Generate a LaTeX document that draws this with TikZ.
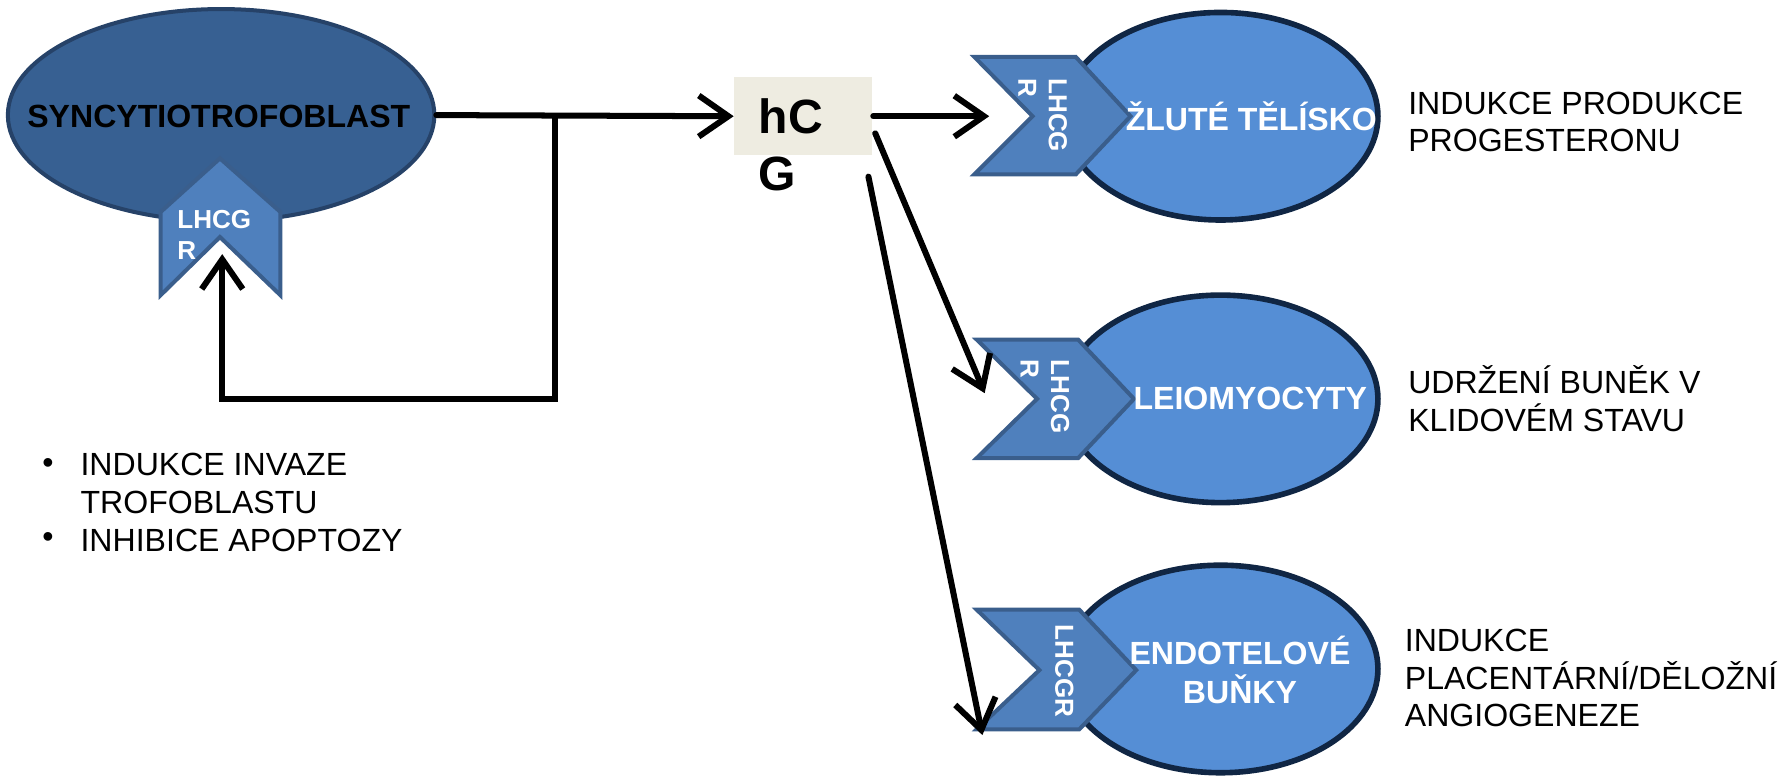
\documentclass[tikz,border=0pt]{standalone}
\usepackage{fontspec}
\setmainfont{Liberation Sans}
\usetikzlibrary{arrows.meta,positioning,shapes.geometric}
\definecolor{syncblue}{RGB}{55,96,146}
\definecolor{syncedge}{RGB}{38,66,104}
\definecolor{cellblue}{RGB}{85,142,213}
\definecolor{celledge}{RGB}{16,38,68}
\definecolor{recblue}{RGB}{79,128,189}
\definecolor{recedge}{RGB}{58,94,140}
\definecolor{hcgfill}{RGB}{238,236,225}

\begin{document}
\begin{tikzpicture}[x=0.01cm,y=-0.01cm,>={Straight Barb[length=2.6mm,width=3.6mm]}, every node/.style={font=\fontsize{8}{9.4}\selectfont,inner sep=0pt}]
    % Styles
    \tikzset{syncell/.style ={ellipse,fill=syncblue,draw=syncedge,line width=1pt,minimum width=3.74cm,minimum height=1.86cm}}
    \tikzset{tcell/.style   ={ellipse,fill=cellblue,draw=celledge,line width=1.4pt,minimum width=2.76cm,minimum height=1.82cm}}
    \tikzset{celltext/.style={text=white,font=\fontsize{8}{9.6}\selectfont\bfseries,align=center}}
    \tikzset{receptor/.style={fill=recblue,draw=recedge,line width=1pt}}
    \tikzset{rectext/.style ={text=white,font=\fontsize{6.5}{7.6}\selectfont\bfseries,align=left}}
    \tikzset{hcgbox/.style  ={fill=hcgfill,minimum width=1.21cm,minimum height=0.68cm}}
    \tikzset{conn/.style    ={->,line width=1.5pt,line cap=round}}
    \tikzset{effect/.style  ={anchor=west,align=left}}

    \useasboundingbox (0,0) rectangle (1568,683);

    % Syncytiotrofoblast
    \node[syncell] (sync) at (194,101) {};
    \node[font=\fontsize{8}{9.4}\selectfont\bfseries] (synclbl) at (192,102) {SYNCYTIOTROFOBLAST};
    \draw[receptor] (141,186) -- (193,139) -- (246,186) -- (246,259) -- (193,208) -- (141,259) -- cycle;
    \node[rectext,anchor=north west] (recSlbl) at (155,184) {LHCG\\R};
    \coordinate (recS) at (195,223);

    % hCG
    \node[hcgbox] (hcg) at (705,102) {};
    \node[font=\fontsize{12}{14.2}\selectfont\bfseries,align=left,anchor=north west] (hcglbl) at (665,86) {hC\\G};

    % Target cells
    \node[tcell] (zlute) at (1071,102) {};
    \node[tcell] (leio)  at (1071,350) {};
    \node[tcell] (endo)  at (1071,587) {};

    % Receptors on target cells
    \draw[receptor] (855,50)  -- (944,50)  -- (992,102) -- (944,153) -- (855,153) -- (906,102) -- cycle;
    \draw[receptor] (857,298) -- (946,298) -- (995,350) -- (946,402) -- (857,402) -- (910,350) -- cycle;
    \draw[receptor] (857,535) -- (947,535) -- (997,588) -- (947,640) -- (857,640) -- (912,588) -- cycle;
    \node[rectext,rotate=-90,anchor=north west] (rec1lbl) at (937,68)  {LHCG\\R};
    \node[rectext,rotate=-90,anchor=north west] (rec2lbl) at (939,315) {LHCG\\R};
    \node[rectext,rotate=-90] (rec3lbl) at (934,589) {LHCGR};

    \node[celltext] (zlutelbl) at (1098,102) {ŽLUTÉ TĚLÍSKO};
    \node[celltext] (leiolbl)  at (1097,350) {LEIOMYOCYTY};
    \node[celltext] (endolbl)  at (1088,588) {ENDOTELOVÉ\\BUŇKY};

    % Effects
    \node[effect] (eff1) at (1235,107) {INDUKCE PRODUKCE\\PROGESTERONU};
    \node[effect] (eff2) at (1235,350) {UDRŽENÍ BUNĚK V\\KLIDOVÉM STAVU};
    \node[effect] (eff3) at (1232,595) {INDUKCE\\PLACENTÁRNÍ/DĚLOŽNÍ\\ANGIOGENEZE};
    \node (b1) at (42,409) {\textbullet};
    \node (b2) at (42,474) {\textbullet};
    \node[effect] (effS) at (70,441) {INDUKCE INVAZE\\TROFOBLASTU\\INHIBICE APOPTOZY};

    % Connectors
    \coordinate (fork) at (487,102);
    \coordinate (turn) at (487,350);
    \coordinate (in1)  at (868,102);
    \coordinate (out2) at (768,117);
    \coordinate (in2)  at (864,345);
    \coordinate (out3) at (762,155);
    \coordinate (in3)  at (862,645);
    \draw[conn] (sync.east) -- (hcg.west);
    \draw[conn] (fork) -- (turn) -| (recS);
    \draw[conn] (hcg.east) -- (in1);
    \draw[conn] (out2) -- (in2);
    \draw[conn] (out3) -- (in3);
\end{tikzpicture}
\end{document}
